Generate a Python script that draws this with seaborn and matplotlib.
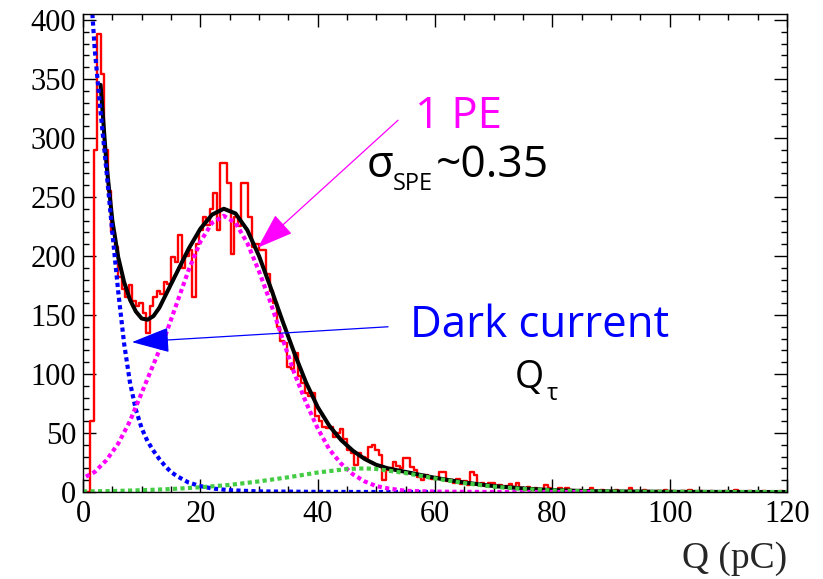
import numpy as np
import pandas as pd
import matplotlib
matplotlib.use('Agg')
import matplotlib.pyplot as plt
import seaborn as sns
from matplotlib.ticker import MultipleLocator

# charge histogram, 200 bins of 0.6 pC from 0 to 120 pC
bin_width = 0.6
counts = [
    0, 0, 60, 290, 388, 354, 290, 255, 220, 208,
    182, 172, 165, 175, 162, 158, 160, 152, 135, 158,
    165, 170, 168, 178, 176, 199, 195, 218, 190, 200,
    205, 165, 210, 222, 233, 226, 240, 253, 222, 279,
    279, 262, 202, 233, 225, 262, 262, 233, 208, 210,
    205, 205, 185, 170, 160, 140, 128, 126, 106, 104,
    118, 98, 92, 84, 81, 84, 64, 60, 55, 54,
    55, 47, 50, 53, 45, 36, 33, 23, 33, 30,
    29, 38, 40, 36, 31, 10, 19, 20, 25, 22,
    20, 29, 29, 21, 19, 13, 10, 14, 12, 11,
    13, 17, 17, 9, 10, 8, 11, 7, 9, 6,
    17, 14, 6, 8, 5, 8, 8, 4, 6, 3,
    5, 7, 4, 8, 3, 2, 4, 2, 3, 1,
    2, 6, 3, 1, 2, 3, 1, 3, 2, 0,
    1, 2, 0, 1, 3, 1, 0, 2, 1, 0,
    1, 2, 0, 0, 1, 3, 0, 1, 0, 2,
    1, 0, 0, 1, 0, 2, 0, 1, 0, 0,
    1, 0, 2, 0, 0, 1, 0, 0, 1, 0,
    0, 0, 1, 0, 0, 2, 0, 0, 0, 1,
    0, 0, 0, 1, 0, 0, 0, 0, 1, 0,
]

# total fit
total_q = [3, 4, 5, 6, 7, 8, 9, 10, 11, 12, 13, 14, 16, 18, 20, 22, 24, 26, 28, 30,
           32, 34, 36, 38, 40, 42, 44, 46, 48, 50, 52, 55, 60, 65, 70, 75, 80, 85,
           90, 100, 110, 120]
total_y = [345, 278, 230, 199, 178, 163, 153, 147, 146, 149, 156, 166, 186, 206, 223,
           235, 240, 236, 222, 200, 173, 145, 118, 93, 72, 56, 44, 35, 28, 23, 20, 17,
           12, 8, 5, 3, 1.6, 0.9, 0.5, 0.15, 0.05, 0]

# dark current (exponential part)
dark_q = [1.6, 2, 3, 4, 5, 6, 7, 8, 9, 10, 11, 12, 13, 14, 15, 16, 18, 20, 22, 25,
          30, 40, 50, 60]
dark_y = [405, 375, 322, 272, 220, 170, 126, 93, 70, 54, 43, 35, 28, 22, 17, 13.5,
          8, 5, 3, 1.5, 0.5, 0.1, 0, 0]

# 1 PE gaussian
pe1_q = [0.5, 2, 4, 6, 8, 10, 12, 14, 16, 18, 20, 22, 24, 26, 28, 30, 32, 34, 36,
         38, 40, 42, 44, 46, 48, 50, 52, 55, 60, 70, 87]
pe1_y = [13, 17, 27, 41, 60, 84, 108, 132, 160, 188, 212, 228, 234, 228, 211, 187,
         160, 130, 101, 76, 54, 36, 24, 15, 9, 5, 3, 1, 0.3, 0, 0]

# 2 PE gaussian
pe2_q = [0, 5, 10, 15, 20, 25, 30, 35, 40, 45, 48, 50, 55, 60, 65, 70, 75, 80, 85,
         90, 100, 110, 120]
pe2_y = [0.5, 0.8, 1.5, 2.5, 4, 6, 9, 12.5, 16.5, 19.5, 20, 19.5, 16, 11.5, 7.5,
         4.5, 2.5, 1.3, 0.6, 0.3, 0.1, 0, 0]

sns.set_style('ticks')
plt.rcParams['font.family'] = ['Liberation Serif', 'DejaVu Serif']

W, H = 823, 579
fig = plt.figure(figsize=(W / 100, H / 100), dpi=100)
ax = fig.add_axes([83 / W, 87 / H, 704 / W, 478 / H])

edges = np.arange(len(counts) + 1) * bin_width
hist = pd.DataFrame({'Q': edges[:-1] + bin_width / 2, 'n': counts})
sns.histplot(data=hist, x='Q', weights='n', bins=list(edges), element='step',
             fill=False, color='red', linewidth=1.7, ax=ax)

sns.lineplot(x=total_q, y=total_y, color='black', linewidth=2.9, ax=ax)
dots = (0, (1, 0.8))
sns.lineplot(x=dark_q, y=dark_y, color='#0000ff', linewidth=3, linestyle=dots, ax=ax)
sns.lineplot(x=pe1_q, y=pe1_y, color='#ff00ff', linewidth=3, linestyle=dots, ax=ax)
sns.lineplot(x=pe2_q, y=pe2_y, color='#44cc44', linewidth=3, linestyle=dots, ax=ax)

ax.set_xlim(0, 120)
ax.set_ylim(0, 405)
ax.set_xlabel('')
ax.set_ylabel('')
ax.xaxis.set_major_locator(MultipleLocator(20))
ax.xaxis.set_minor_locator(MultipleLocator(5))
ax.yaxis.set_major_locator(MultipleLocator(50))
ax.yaxis.set_minor_locator(MultipleLocator(10))
ax.tick_params(which='both', direction='in', top=True, right=True, width=1,
               labelsize=22, colors='black')
ax.tick_params(which='major', length=9.5)
ax.tick_params(which='minor', length=4.5)
ax.tick_params(axis='x', pad=6)
ax.tick_params(axis='y', pad=5)
for s in ax.spines.values():
    s.set_linewidth(1)
    s.set_color('black')

fig.text(787 / W, 1 - 568 / H, 'Q (pC)', ha='right', va='baseline', fontsize=27)


def px_text(x, y, s, size, color='black'):
    fig.text(x / W, 1 - y / H, s, fontsize=size, color=color, ha='left',
             va='baseline', family=['Open Sans', 'DejaVu Sans'])


px_text(415, 128, '1 PE', 31.5, '#ff00ff')
px_text(367, 177, 'σ', 31.5)
px_text(393, 190, 'SPE', 17)
px_text(436, 177, '~0.35', 32)
px_text(410, 337, 'Dark current', 31.5, '#0000ff')
px_text(515, 388, 'Q', 27)
px_text(547, 400, 'τ', 17)

# arrows (data coordinates)
ax.annotate('', xy=(29.8, 207), xytext=(53.7, 315),
            arrowprops=dict(arrowstyle='-|>,head_length=23,head_width=8',
                            color='#ff00ff', lw=0.9, shrinkA=0, shrinkB=0,
                            mutation_scale=1))
ax.annotate('', xy=(8.35, 127), xytext=(52, 140),
            arrowprops=dict(arrowstyle='-|>,head_length=24,head_width=8',
                            color='#0000ff', lw=0.9, shrinkA=0, shrinkB=0,
                            mutation_scale=1))

fig.savefig('out.png', dpi=100)
